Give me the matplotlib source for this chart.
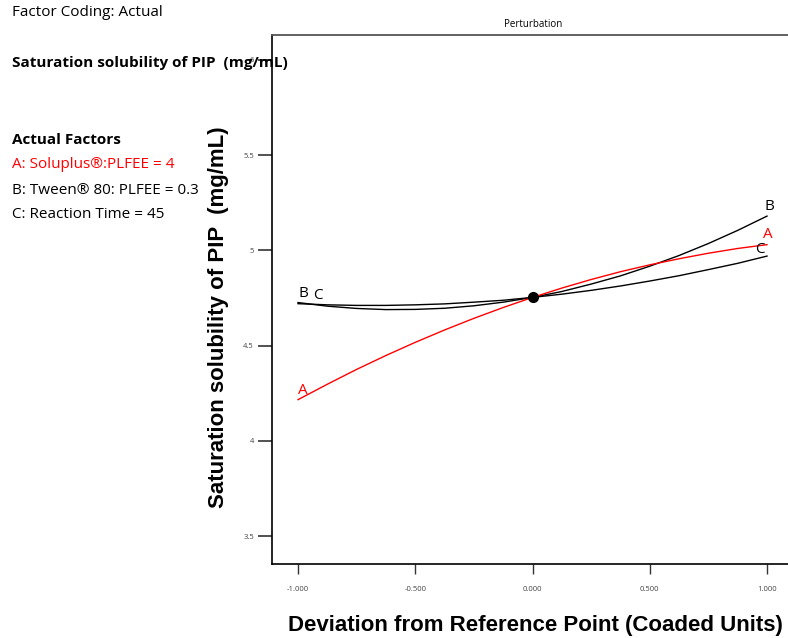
import matplotlib
matplotlib.use("Agg")
import matplotlib.pyplot as plt

# deviation from reference point (coded units)
dev = [-1.0, -0.875, -0.75, -0.625, -0.5, -0.375, -0.25, -0.125, 0.0,
       0.125, 0.25, 0.375, 0.5, 0.625, 0.75, 0.875, 1.0]
# saturation solubility of PIP (mg/mL)
sol_A = [4.216, 4.297, 4.375, 4.448, 4.517, 4.582, 4.643, 4.700, 4.753,
         4.802, 4.847, 4.888, 4.924, 4.956, 4.985, 5.010, 5.03]
sol_B = [4.726, 4.707, 4.695, 4.689, 4.690, 4.696, 4.709, 4.728, 4.753,
         4.784, 4.823, 4.866, 4.917, 4.973, 5.036, 5.105, 5.18]
sol_C = [4.720, 4.714, 4.711, 4.711, 4.714, 4.719, 4.728, 4.738, 4.753,
         4.770, 4.790, 4.813, 4.839, 4.867, 4.899, 4.932, 4.97]
ref_point = (0.0, 4.753)

xticks = [-1.0, -0.5, 0.0, 0.5, 1.0]
xtick_labels = ["-1.000", "-0.500", "0.000", "0.500", "1.000"]
yticks = [3.5, 4, 4.5, 5, 5.5, 6]
ytick_labels = ["3.5", "4", "4.5", "5", "5.5", "6"]

W, H = 788, 638
fig = plt.figure(figsize=(W / 100, H / 100), dpi=100)

# axes box in pixels: left 272, right 790, top 35, bottom 564
ax = fig.add_axes([272 / W, (H - 564) / H, (790 - 272) / W, (564 - 35) / H])
ax.set_xlim(-1.111, 1.098)
ax.set_ylim(3.353, 6.131)

ax.plot(dev, sol_B, color="black", lw=1.0)
ax.plot(dev, sol_C, color="black", lw=1.0)
ax.plot(dev, sol_A, color="red", lw=1.0)
ax.plot([ref_point[0]], [ref_point[1]], "o", color="black", ms=7)

# curve end labels
lab = dict(fontsize=11, family="Open Sans", ha="center", va="bottom")
ax.text(-0.979, 4.735, "B", **lab)
ax.text(-0.917, 4.722, "C", **lab)
ax.text(-0.979, 4.225, "A", color="red", **lab)
ax.text(1.01, 5.19, "B", **lab)
ax.text(1.005, 5.045, "A", color="red", **lab)
ax.text(0.968, 4.965, "C", **lab)

ax.spines["right"].set_visible(False)
ax.spines["top"].set_color("#555555")
ax.spines["top"].set_linewidth(1.3)
ax.spines["left"].set_linewidth(1.2)
ax.spines["bottom"].set_linewidth(1.2)

ax.set_xticks(xticks)
ax.set_xticklabels(xtick_labels)
ax.set_yticks(yticks)
ax.set_yticklabels(ytick_labels)
ax.tick_params(axis="y", direction="out", length=10, width=1.2, color="#333333",
               labelsize=5.5, labelcolor="#444444", pad=3)
ax.tick_params(axis="x", direction="out", length=7, width=1.0, color="#333333",
               labelsize=5.5, labelcolor="#444444", pad=9)
for t in ax.get_xticklabels() + ax.get_yticklabels():
    t.set_family("Open Sans")

ax.set_title("Perturbation", fontsize=7, family="Open Sans", pad=6, x=0.505)

fig.text(219 / W, 1 - 317 / H, "Saturation solubility of PIP  (mg/mL)",
         rotation=90, ha="center", va="center", fontsize=16, fontweight="bold",
         family="Liberation Sans")
fig.text(535 / W, 1 - 625 / H, "Deviation from Reference Point (Coaded Units)",
         ha="center", va="center", fontsize=16, fontweight="bold",
         family="Liberation Sans")

# left-hand annotation block
side = dict(family="Open Sans", ha="left", va="center")
fig.text(12 / W, 1 - 13 / H, "Factor Coding: Actual", fontsize=11, **side)
fig.text(12 / W, 1 - 63 / H, "Saturation solubility of PIP  (mg/mL)", fontsize=11,
         fontweight="bold", **side)
fig.text(12 / W, 1 - 140 / H, "Actual Factors", fontsize=11, fontweight="bold", **side)
fig.text(12 / W, 1 - 165 / H, "A: Soluplus\u00ae:PLFEE = 4", fontsize=11, color="red", **side)
fig.text(12 / W, 1 - 190 / H, "B: Tween\u00ae 80: PLFEE = 0.3", fontsize=11, **side)
fig.text(12 / W, 1 - 215 / H, "C: Reaction Time = 45", fontsize=11, **side)

fig.savefig("out.png", dpi=100)
